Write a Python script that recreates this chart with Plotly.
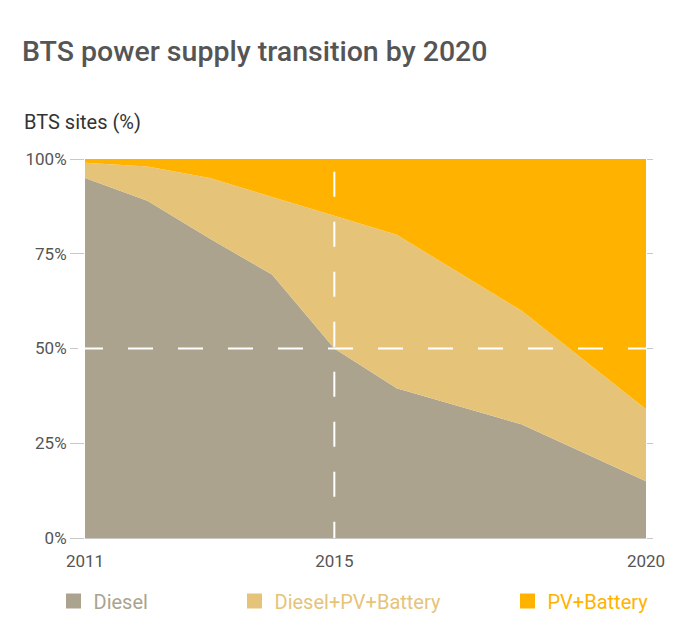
import plotly.graph_objects as go

# ---- data ----
years = [2011, 2012, 2013, 2014, 2015, 2016, 2018, 2020]
diesel = [95, 89, 79, 69.5, 50, 39.5, 30, 15]
hybrid = [4, 9, 16, 20.5, 35, 40.5, 30, 19]
pv_battery = [1, 2, 5, 10, 15, 20, 40, 66]
series_names = ["Diesel", "Diesel+PV+Battery", "PV+Battery"]
colors = ["#ABA38D", "#E5C47A", "#FFB300"]
y_ticks = [0, 25, 50, 75, 100]
y_tick_labels = ["0%", "25%", "50%", "75%", "100%"]
x_ticks = [2011, 2015, 2020]
ref_year = 2015
ref_share = 50

FONT = "Roboto, 'Noto Sans', sans-serif"
OFF = 8  # page body margin
W, H = 688 - OFF, 625 - OFF
L, T = 85 - OFF, 159 - OFF
PW, PH = 561, 379
R = W - L - PW
B = H - T - PH

fig = go.Figure()
for name, vals, col in zip(series_names, [diesel, hybrid, pv_battery], colors):
    fig.add_trace(go.Scatter(
        x=years, y=vals, name=name, stackgroup="one", mode="none",
        fillcolor=col, line=dict(width=0), showlegend=False, hoverinfo="skip",
    ))

# legend entries (square markers), one legend each so they can be spaced freely
legend_left_px = [53.5, 234.5, 507.5]  # page px
legend_ids = ["legend", "legend2", "legend3"]
for name, col, lid in zip(series_names, colors, legend_ids):
    fig.add_trace(go.Scatter(
        x=[None], y=[None], name=name, mode="markers", yaxis="y2",
        marker=dict(symbol="square", size=15, color=col, line=dict(width=0)),
        legend=lid, showlegend=True,
    ))

legend_cfg = {}
for lid, px, col in zip(legend_ids, legend_left_px, colors):
    legend_cfg[lid] = dict(
        orientation="h", x=(px - 85) / PW, xanchor="left",
        y=(538 - 601) / PH, yanchor="middle",
        font=dict(family=FONT, size=20, color=col),
        bgcolor="rgba(0,0,0,0)", borderwidth=0,
    )

# reference dashed lines
fig.add_shape(type="line", xref="paper", yref="y",
              x0=-7 / PW, x1=1, y0=ref_share, y1=ref_share,
              line=dict(color="white", width=2, dash="25px,25px"), layer="above")
fig.add_shape(type="line", xref="x", yref="y",
              x0=ref_year, x1=ref_year, y0=96.65, y1=0,
              line=dict(color="white", width=2, dash="25px,25px"), layer="above")

fig.update_layout(
    width=W, height=H,
    margin=dict(l=L, r=R, t=T, b=B, autoexpand=False),
    paper_bgcolor="white", plot_bgcolor="white",
    font=dict(family=FONT, color="#555555"),
    title=dict(
        text="BTS power supply transition by 2020",
        x=(22 - OFF) / W, xref="container", xanchor="left",
        y=1 - (51 - OFF) / H, yref="container", yanchor="middle",
        font=dict(family=FONT, size=28.5, color="#555555", weight=500),
    ),
    xaxis=dict(
        range=[years[0], years[-1]], tickvals=x_ticks, ticktext=[str(v) for v in x_ticks],
        showgrid=False, zeroline=False, showline=True, linecolor="#C8C8C8", linewidth=1,
        ticks="", ticklabelstandoff=8,
        tickfont=dict(family=FONT, size=17, color="#555555"),
    ),
    yaxis=dict(
        range=[0, 100], tickvals=y_ticks, ticktext=y_tick_labels,
        showgrid=False, zeroline=False, showline=False,
        ticks="outside", ticklen=14, tickcolor="#C8C8C8", tickwidth=1,
        tickfont=dict(family=FONT, size=17, color="#555555"),
    ),
    yaxis2=dict(
        range=[0, 100], overlaying="y", side="right", tickvals=y_ticks,
        showticklabels=False, showgrid=False, zeroline=False, showline=False,
        ticks="outside", ticklen=6, tickcolor="#C8C8C8", tickwidth=1,
    ),
    annotations=[dict(
        text="BTS sites (%)", xref="paper", yref="paper",
        x=(22 - 85) / PW, xanchor="left", y=1 + (159 - 122) / PH, yanchor="middle",
        showarrow=False, font=dict(family=FONT, size=20, color="#333333"),
    )],
    hovermode=False,
    **legend_cfg,
)

fig.write_html("out.html")
